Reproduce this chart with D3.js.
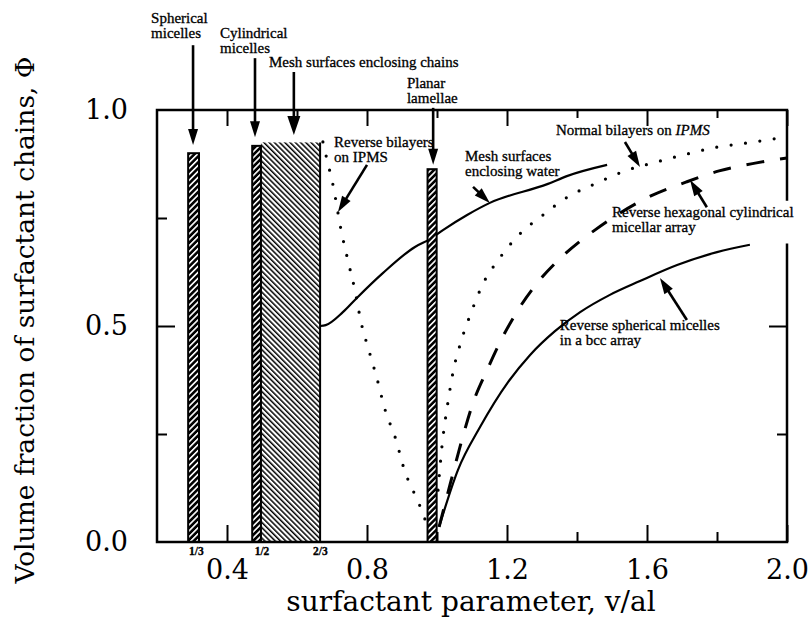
<!DOCTYPE html>
<html>
<head>
<meta charset="utf-8">
<script src="https://cdn.jsdelivr.net/npm/d3@7"></script>
<style>
  body { margin: 0; background: #fff; }
  svg { display: block; }
  .num { font-family: "DejaVu Serif", "Liberation Serif", serif; }
  .ann { font-family: "Liberation Serif", "Times New Roman", serif; stroke: #000; stroke-width: 0.3px; }
</style>
</head>
<body>
<svg width="810" height="634"></svg>
<script>
// values
var xTickLabels = [0.4, 0.8, 1.2, 1.6, 2.0];
var xMinorTicks = [0.6, 1.0, 1.4, 1.8];
var yTickLabels = [0.0, 0.5, 1.0];
var yMajorTicks = [0.5];
var yMinorTicks = [0.25, 0.75];
var fracValues = [1/3, 1/2, 2/3];
var fracLabels = ["1/3", "1/2", "2/3"];

// phase bars: [x0, x1, top]
var sphericalBar   = [0.289, 0.320, 0.900];
var cylindricalBar = [0.472, 0.497, 0.917];
var lamellaeBar    = [0.973, 0.999, 0.863];
var meshChainsBox  = [0.497, 0.666, 0.925];

// curves [v/al, phi]
var meshWater = [[0.666,0.500],[0.682,0.502],[0.731,0.532],[0.771,0.565],[0.846,0.623],
  [0.937,0.683],[0.980,0.701],[1.017,0.722],[1.086,0.757],[1.151,0.785],[1.317,0.829],
  [1.371,0.847],[1.486,0.873]];
var reverseBilayer = [[0.674,0.926],[0.686,0.884],[0.703,0.826],[0.726,0.722],[0.746,0.650],
  [0.766,0.581],[0.783,0.509],[0.806,0.442],[0.829,0.377],[0.851,0.308],[0.883,0.236],
  [0.906,0.169],[0.940,0.104],[0.957,0.072],[0.974,0.032]];
var normalBilayer = [[1.003,0.120],[1.014,0.220],[1.031,0.322],[1.046,0.394],[1.069,0.465],
  [1.097,0.530],[1.131,0.597],[1.177,0.655],[1.234,0.711],[1.303,0.757],[1.374,0.799],
  [1.457,0.831],[1.537,0.859],[1.629,0.880],[1.714,0.898],[1.800,0.914],[1.889,0.924],
  [2.000,0.938]];
var reverseHex = [[1.006,0.035],[1.037,0.132],[1.071,0.236],[1.103,0.322],[1.143,0.398],
  [1.186,0.472],[1.237,0.544],[1.294,0.607],[1.366,0.667],[1.451,0.722],[1.611,0.801],
  [1.711,0.833],[1.806,0.859],[1.909,0.877],[2.000,0.889]];
var reverseSph = [[1.006,0.035],[1.060,0.167],[1.123,0.266],[1.203,0.370],[1.266,0.433],
  [1.337,0.488],[1.409,0.532],[1.494,0.572],[1.580,0.604],[1.686,0.641],[1.800,0.671],
  [1.894,0.688]];

var svg = d3.select("svg");
var x = d3.scaleLinear().domain([0.2, 2.0]).range([157, 787]);
var y = d3.scaleLinear().domain([0, 1]).range([542, 110]);

var defs = svg.append("defs");
var p1 = defs.append("pattern").attr("id", "barHatch")
    .attr("patternUnits", "userSpaceOnUse").attr("width", 4.2).attr("height", 4.2)
    .attr("patternTransform", "rotate(45)");
p1.append("rect").attr("width", 4.2).attr("height", 4.2).attr("fill", "#000");
p1.append("rect").attr("width", 1.6).attr("height", 4.2).attr("fill", "#fff");
var p2 = defs.append("pattern").attr("id", "meshHatch")
    .attr("patternUnits", "userSpaceOnUse").attr("width", 3.7).attr("height", 3.7)
    .attr("patternTransform", "rotate(-45)");
p2.append("rect").attr("width", 3.7).attr("height", 3.7).attr("fill", "#fff");
p2.append("rect").attr("width", 1.5).attr("height", 3.7).attr("fill", "#000");

function ticks(axis, tr, vals, size) {
  svg.append("g").attr("transform", tr)
    .call(axis.tickValues(vals).tickSize(size).tickFormat(""))
    .call(function(g) {
      g.select(".domain").remove();
      g.selectAll("line").attr("stroke", "#000").attr("stroke-width", 2);
    });
}
ticks(d3.axisTop(x), "translate(0," + y(0) + ")", xTickLabels, 17);
ticks(d3.axisTop(x), "translate(0," + y(0) + ")", xMinorTicks, 10);
ticks(d3.axisBottom(x), "translate(0," + y(1) + ")", xTickLabels, 16);
ticks(d3.axisBottom(x), "translate(0," + y(1) + ")", xMinorTicks, 8);
ticks(d3.axisRight(y), "translate(" + x(0.2) + ",0)", yMajorTicks, 18);
ticks(d3.axisRight(y), "translate(" + x(0.2) + ",0)", yMinorTicks, 10);
ticks(d3.axisLeft(y), "translate(" + x(2.0) + ",0)", yMajorTicks, 18);
ticks(d3.axisLeft(y), "translate(" + x(2.0) + ",0)", [0.25], 10);

// tick labels
svg.append("g").attr("transform", "translate(0," + y(0) + ")")
  .call(d3.axisBottom(x).tickValues(xTickLabels).tickSize(0).tickPadding(18).tickFormat(d3.format(".1f")))
  .attr("font-family", null).attr("class", "num").style("font-size", "27px")
  .call(function(g) { g.select(".domain").remove(); });
svg.append("g").attr("transform", "translate(" + x(0.2) + ",0)")
  .call(d3.axisLeft(y).tickValues(yTickLabels).tickSize(0).tickPadding(29).tickFormat(d3.format(".1f")))
  .attr("font-family", null).attr("class", "num").style("font-size", "27px")
  .call(function(g) { g.select(".domain").remove(); });

svg.append("g").attr("class", "ann").selectAll("text").data(fracValues).enter().append("text")
  .attr("x", function(d) { return x(d); })
  .attr("y", y(0) + 13)
  .attr("text-anchor", function(d, i) { return i === 0 ? "end" : "middle"; })
  .style("font-size", "11.5px").style("font-weight", "bold")
  .text(function(d, i) { return fracLabels[i]; });

// curves
var line = d3.line().x(function(d) { return x(d[0]); }).y(function(d) { return y(d[1]); })
  .curve(d3.curveMonotoneX);
var curves = svg.append("g").attr("fill", "none").attr("stroke", "#000");
curves.append("path").datum(meshWater).attr("d", line).attr("stroke-width", 2.2);
curves.append("path").datum(reverseSph).attr("d", line).attr("stroke-width", 2.2);
curves.append("path").datum(reverseHex).attr("d", line).attr("stroke-width", 3)
  .attr("stroke-dasharray", "18 16");
curves.selectAll(".dots").data([reverseBilayer, normalBilayer]).enter().append("path")
  .attr("d", line).attr("stroke-width", 3.2).attr("stroke-linecap", "round")
  .attr("stroke-dasharray", "0 14.5");

// bars
svg.append("rect")
  .attr("x", x(meshChainsBox[0])).attr("y", y(meshChainsBox[2]))
  .attr("width", x(meshChainsBox[1]) - x(meshChainsBox[0]))
  .attr("height", y(0) - y(meshChainsBox[2]))
  .attr("fill", "url(#meshHatch)");
svg.append("line")
  .attr("x1", x(meshChainsBox[1])).attr("x2", x(meshChainsBox[1]))
  .attr("y1", y(meshChainsBox[2])).attr("y2", y(0))
  .attr("stroke", "#000").attr("stroke-width", 2);
svg.append("g").selectAll("rect").data([sphericalBar, cylindricalBar, lamellaeBar]).enter()
  .append("rect")
  .attr("x", function(d) { return x(d[0]); })
  .attr("y", function(d) { return y(d[2]); })
  .attr("width", function(d) { return x(d[1]) - x(d[0]); })
  .attr("height", function(d) { return y(0) - y(d[2]); })
  .attr("fill", "url(#barHatch)")
  .attr("stroke", "#000").attr("stroke-width", 2);

// frame (right side is broken where a label runs over it)
svg.append("path")
  .attr("fill", "none").attr("stroke", "#000").attr("stroke-width", 2.5).attr("stroke-linecap", "square")
  .attr("d", "M" + x(2.0) + "," + y(0.793) + "V" + y(1) + "H" + x(0.2) + "V" + y(0) + "H" + x(2.0) + "V" + y(0.688));

// annotations (positions in data units)
var notes = [
  {lines: ["Spherical", "micelles"], at: [0.183, 1.201], from: [0.303, 1.150], to: [0.303, 0.919]},
  {lines: ["Cylindrical", "micelles"], at: [0.380, 1.167], from: [0.480, 1.120], to: [0.480, 0.937]},
  {lines: ["Mesh surfaces enclosing chains"], at: [0.520, 1.099], from: [0.591, 1.088], to: [0.591, 0.942], big: true},
  {lines: ["Planar", "lamellae"], at: [0.914, 1.051], from: [0.989, 1.005], to: [0.989, 0.873]},
  {lines: ["Reverse bilayers", "on IPMS"], at: [0.706, 0.914], from: [0.800, 0.873], to: [0.717, 0.764]},
  {lines: ["Mesh surfaces", "enclosing water"], at: [1.080, 0.882], from: [1.103, 0.822], to: [1.151, 0.785]},
  {lines: ["Normal bilayers on "], italic: "IPMS", at: [1.340, 0.942], from: [1.537, 0.926], to: [1.580, 0.868]},
  {lines: ["Reverse hexagonal cylindrical", "micellar array"], at: [1.500, 0.752], from: [1.771, 0.775], to: [1.723, 0.838]},
  {lines: ["Reverse spherical micelles", "in a bcc array"], at: [1.351, 0.491], from: [1.714, 0.514], to: [1.637, 0.611]}
];

var ann = svg.append("g");
notes.forEach(function(n) {
  var t = ann.append("text").attr("class", "ann")
    .attr("x", x(n.at[0])).attr("y", y(n.at[1]))
    .style("font-size", "15px");
  n.lines.forEach(function(s, i) {
    t.append("tspan").attr("x", x(n.at[0])).attr("dy", i ? 15 : 0).text(s);
  });
  if (n.italic) t.append("tspan").style("font-style", "italic").text(n.italic);

  var x0 = x(n.from[0]), y0 = y(n.from[1]), x1 = x(n.to[0]), y1 = y(n.to[1]);
  var dx = x1 - x0, dy = y1 - y0, L = Math.hypot(dx, dy), ux = dx / L, uy = dy / L;
  var hl = n.big ? 19 : 16, hw = n.big ? 13 : 10;
  var bx = x1 - ux * hl, by = y1 - uy * hl;
  ann.append("line").attr("x1", x0).attr("y1", y0).attr("x2", bx + ux * 3).attr("y2", by + uy * 3)
    .attr("stroke", "#000").attr("stroke-width", 2.6);
  ann.append("path").attr("fill", "#000")
    .attr("d", "M" + x1 + "," + y1 + "L" + (bx - uy * hw / 2) + "," + (by + ux * hw / 2) +
      "L" + (bx + uy * hw / 2) + "," + (by - ux * hw / 2) + "Z");
});

// axis titles
svg.append("text").attr("class", "num")
  .attr("x", 471).attr("y", 611)
  .attr("text-anchor", "middle")
  .style("font-size", "28px")
  .text("surfactant parameter, v/al");
svg.append("text").attr("class", "num")
  .attr("transform", "translate(34,320) rotate(-90)")
  .attr("text-anchor", "middle")
  .style("font-size", "26.5px")
  .text("Volume fraction of surfactant chains, Φ");
</script>
</body>
</html>
